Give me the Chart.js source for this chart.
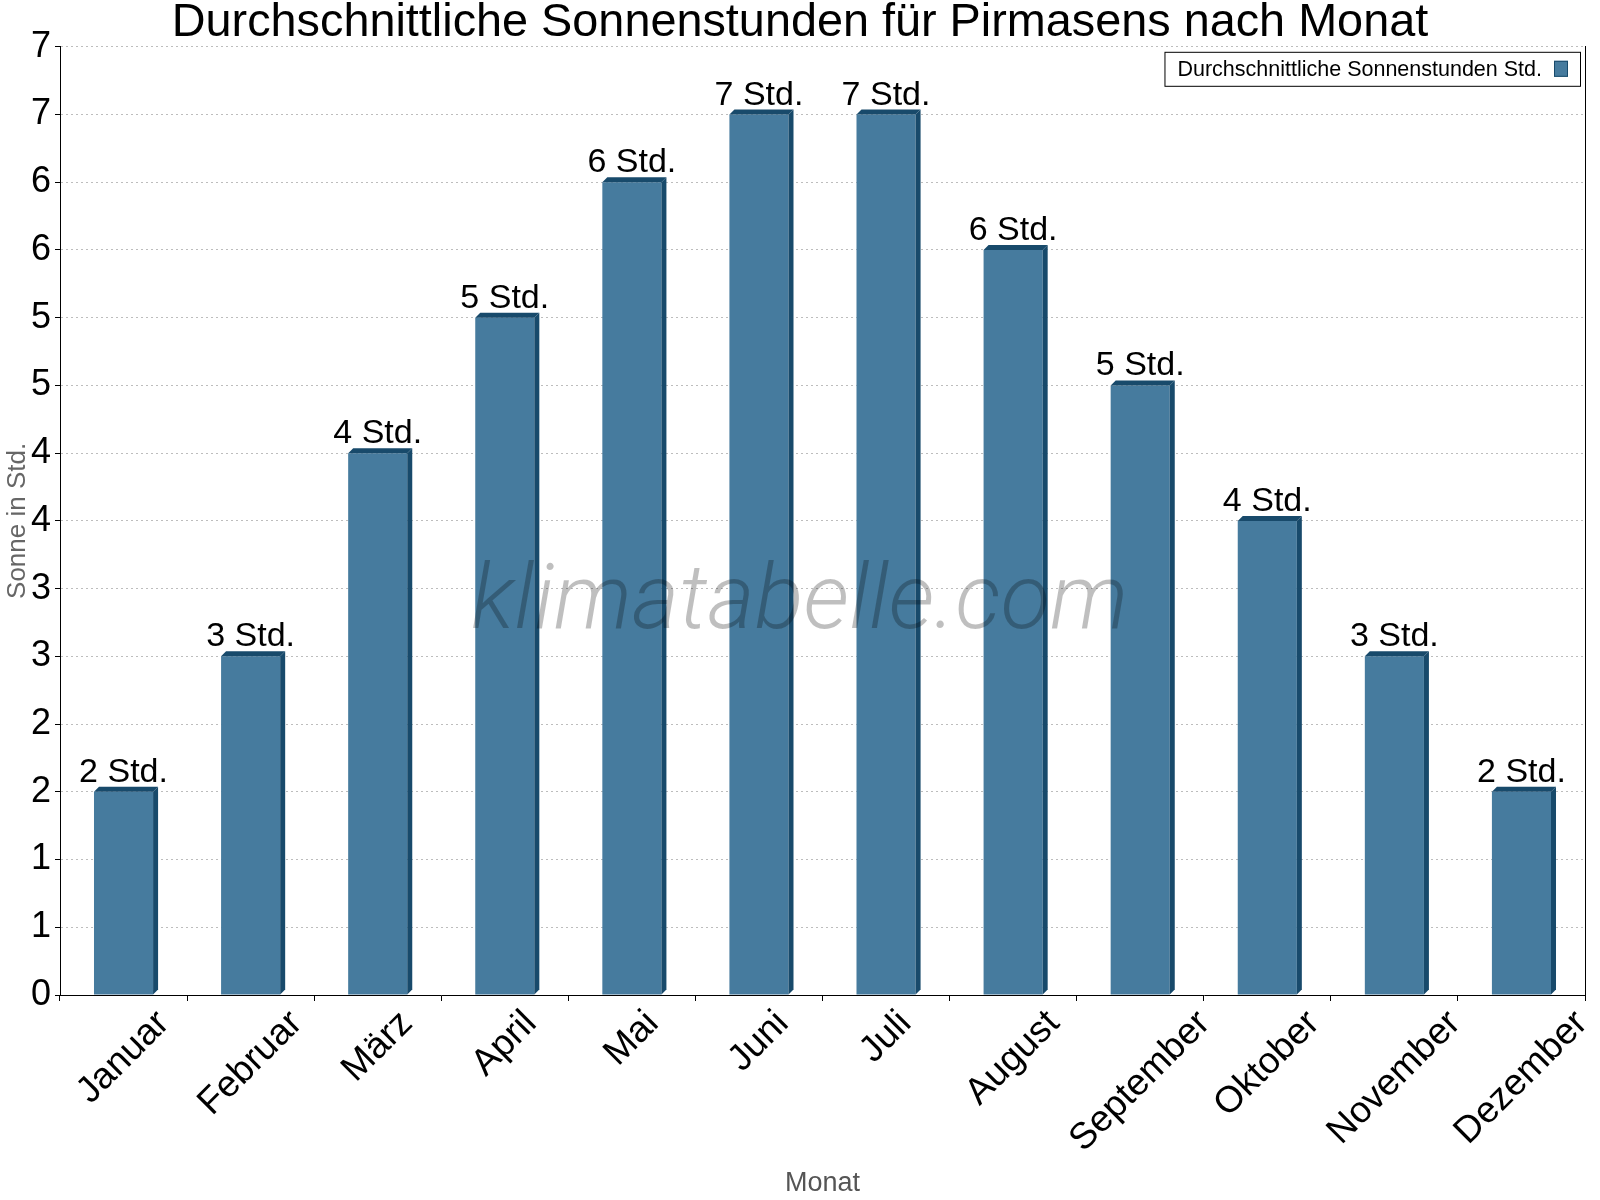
<!DOCTYPE html>
<html>
<head>
<meta charset="utf-8">
<script src="https://cdn.jsdelivr.net/npm/chart.js@4.4.1/dist/chart.umd.min.js"></script>
<style>
  html, body { margin: 0; background: #fff; }
  #wrap { width: 1600px; height: 1200px; }
</style>
</head>
<body>
<div id="wrap"><canvas id="chart"></canvas></div>
<script>
// ── Daten ──
const months = ['Januar', 'Februar', 'März', 'April', 'Mai', 'Juni', 'Juli', 'August', 'September', 'Oktober', 'November', 'Dezember'];
const sunHours = [1.5, 2.5, 4.0, 5.0, 6.0, 6.5, 6.5, 5.5, 4.5, 3.5, 2.5, 1.5];
const barLabels = ['2 Std.', '3 Std.', '4 Std.', '5 Std.', '6 Std.', '7 Std.', '7 Std.', '6 Std.', '5 Std.', '4 Std.', '3 Std.', '2 Std.'];
const yTickLabels = ['0', '1', '1', '2', '2', '3', '3', '4', '4', '5', '5', '6', '6', '7', '7'];

const FONT = '"Liberation Sans", Arial, sans-serif';
const FRONT = '#467b9e';
const SIDE = '#184a6b';
const DEPTH = 5;

Chart.defaults.font.family = FONT;

// 3D-Kanten der Balken + Werte darüber
const bar3d = {
  id: 'bar3d',
  afterDatasetsDraw(chart) {
    const ctx = chart.ctx;
    const meta = chart.getDatasetMeta(0);
    ctx.save();
    meta.data.forEach((el, i) => {
      const { x, y, width, base } = el.getProps(['x', 'y', 'width', 'base'], true);
      const l = x - width / 2, r = x + width / 2;
      ctx.fillStyle = SIDE;
      ctx.beginPath();
      ctx.moveTo(l, y); ctx.lineTo(l + DEPTH, y - DEPTH); ctx.lineTo(r + DEPTH, y - DEPTH); ctx.lineTo(r, y);
      ctx.closePath(); ctx.fill();
      ctx.beginPath();
      ctx.moveTo(r, y); ctx.lineTo(r + DEPTH, y - DEPTH); ctx.lineTo(r + DEPTH, base - DEPTH); ctx.lineTo(r, base);
      ctx.closePath(); ctx.fill();

      ctx.fillStyle = '#000';
      ctx.font = '34px ' + FONT;
      ctx.textAlign = 'center';
      ctx.textBaseline = 'alphabetic';
      ctx.fillText(barLabels[i], x, y - 10);
    });
    ctx.restore();
  }
};

// Wasserzeichen, Legende, gedrehte Monatsnamen
const extras = {
  id: 'extras',
  afterDraw(chart) {
    const ctx = chart.ctx;
    const area = chart.chartArea;
    ctx.save();

    // watermark
    ctx.font = 'italic 300 90px Roboto, "Open Sans", sans-serif';
    const wm = 'klimatabelle.com';
    const sx = (area.width * 0.431) / ctx.measureText(wm).width;
    ctx.translate(area.left + area.width * 0.485, area.top + (area.bottom - area.top) * 0.613);
    ctx.scale(sx, 1);
    ctx.fillStyle = 'rgba(0,0,0,0.25)';
    ctx.textAlign = 'center';
    ctx.textBaseline = 'alphabetic';
    ctx.fillText(wm, 0, 0);
    ctx.setTransform(1, 0, 0, 1, 0, 0);

    // legend
    const ds = chart.data.datasets[0];
    ctx.font = '21.5px ' + FONT;
    const tw = ctx.measureText(ds.label).width;
    const bw = 13 + tw + 12 + 14 + 12, bh = 34;
    const bx = area.right - 5 - bw, by = area.top + 5;
    ctx.fillStyle = '#fff';
    ctx.fillRect(bx, by, bw, bh);
    ctx.strokeStyle = '#000';
    ctx.lineWidth = 1;
    ctx.strokeRect(bx + 0.5, by + 0.5, bw, bh);
    ctx.fillStyle = '#000';
    ctx.textAlign = 'left';
    ctx.textBaseline = 'middle';
    ctx.fillText(ds.label, bx + 13, by + bh / 2 + 1);
    ctx.fillStyle = FRONT;
    ctx.fillRect(bx + 13 + tw + 12, by + 9, 14, 16);
    ctx.strokeStyle = SIDE;
    ctx.strokeRect(bx + 13 + tw + 12 + 0.5, by + 9.5, 13, 15);

    // x labels
    const xs = chart.scales.x;
    ctx.font = '37px ' + FONT;
    ctx.fillStyle = '#000';
    ctx.textAlign = 'center';
    ctx.textBaseline = 'middle';
    months.forEach((m, i) => {
      const cx = xs.getPixelForValue(i);
      const w = ctx.measureText(m).width;
      const cy = area.bottom + 12 + (w + 30) * Math.SQRT1_2 / 2;
      ctx.save();
      ctx.translate(cx, cy);
      ctx.rotate(-Math.PI / 4);
      ctx.fillText(m, 0, 0);
      ctx.restore();
    });
    ctx.restore();
  }
};

new Chart(document.getElementById('chart'), {
  type: 'bar',
  data: {
    labels: months,
    datasets: [{
      label: 'Durchschnittliche Sonnenstunden Std.',
      data: sunHours,
      backgroundColor: FRONT,
      borderWidth: 0,
      categoryPercentage: 1,
      barPercentage: 0.465
    }]
  },
  options: {
    responsive: true, maintainAspectRatio: false, animation: false,
    layout: { padding: 0 },
    plugins: {
      legend: { display: false },
      tooltip: { enabled: false },
      title: {
        display: true,
        text: 'Durchschnittliche Sonnenstunden für Pirmasens nach Monat',
        color: '#000',
        font: { size: 46.8, weight: 'normal', lineHeight: 1 },
        padding: { top: 0, bottom: 0 }
      }
    },
    scales: {
      x: {
        offset: true,
        grid: { display: true, offset: true, drawOnChartArea: false, tickLength: 6, tickColor: '#000' },
        border: { color: '#000' },
        ticks: { display: false },
        title: { display: true, text: 'Monat', color: '#555', font: { size: 27 }, padding: { top: 0, bottom: 0 } },
        afterFit: s => { s.height = 205; }
      },
      y: {
        min: 0, max: 7,
        ticks: { stepSize: 0.5, autoSkip: false, color: '#000', font: { size: 36 }, padding: 4, callback: (v, i) => yTickLabels[i] },
        grid: { color: '#bdbdbd', tickLength: 5, tickColor: '#000' },
        border: { color: '#000', dash: [2, 3] },
        title: { display: true, text: 'Sonne in Std.', color: '#666', font: { size: 26 }, padding: { top: 2, bottom: 0 } },
        afterFit: s => { s.width = 60; }
      },
      y2: {
        position: 'right',
        grid: { display: false },
        ticks: { display: false },
        border: { color: '#000' },
        afterFit: s => { s.width = 15; }
      }
    }
  },
  plugins: [bar3d, extras]
});
</script>
</body>
</html>
